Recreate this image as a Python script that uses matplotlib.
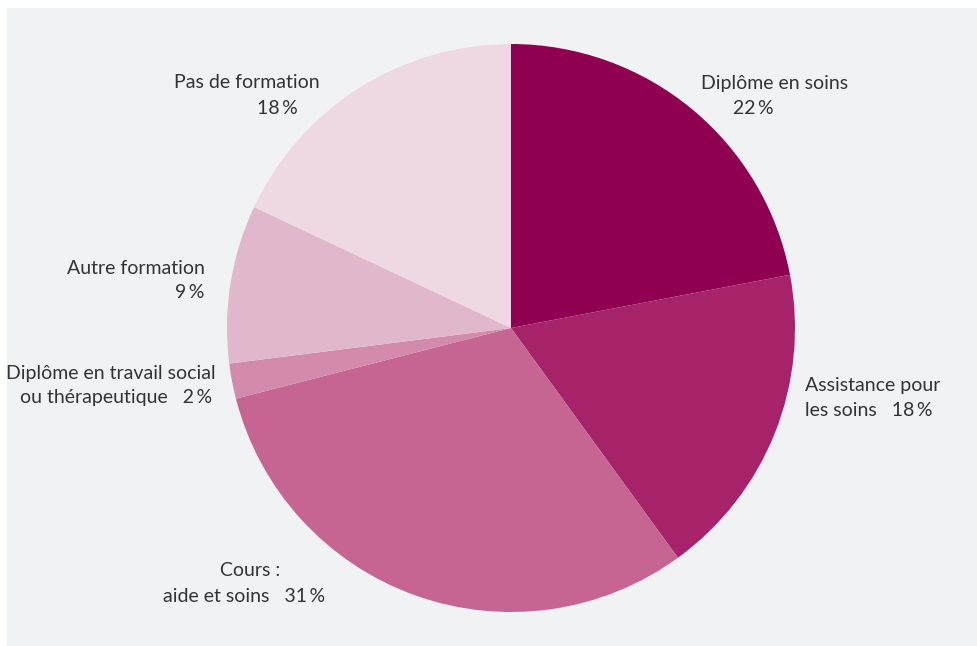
"""Pie chart: formation du personnel (recreation)."""

import matplotlib

matplotlib.use("Agg")
import matplotlib.pyplot as plt
from matplotlib.patches import Rectangle

W, H = 978, 646

categories = [
    "Diplôme en soins",
    "Assistance pour les soins",
    "Cours : aide et soins",
    "Diplôme en travail social ou thérapeutique",
    "Autre formation",
    "Pas de formation",
]
shares = [22, 18, 31, 2, 9, 18]
colors = ["#8f0050", "#a6236a", "#c66592", "#d48aab", "#e1b8cb", "#eed9e3"]

# label lines: (text, x_px, y_px, ha)
label_lines = [
    ("Diplôme en soins", 775, 83, "center"),
    ("22\u2009%", 753, 108, "center"),
    ("Assistance pour", 805, 385, "left"),
    ("les soins   18\u2009%", 805, 410, "left"),
    ("Cours :", 250, 571, "center"),
    ("aide et soins   31\u2009%", 244, 596, "center"),
    ("Diplôme en travail social", 216, 373, "right"),
    ("ou thérapeutique   2\u2009%", 212, 398, "right"),
    ("Autre formation", 205, 268, "right"),
    ("9\u2009%", 204, 293, "right"),
    ("Pas de formation", 247, 83, "center"),
    ("18\u2009%", 277, 108, "center"),
]


def main() -> None:
    plt.rcParams["font.family"] = ["Lato", "DejaVu Sans"]
    fig = plt.figure(figsize=(W / 100, H / 100), dpi=100, facecolor="white")

    fig.patches.append(
        Rectangle(
            (7 / W, 0),
            1 - 7 / W,
            1 - 8 / H,
            transform=fig.transFigure,
            facecolor="#f1f2f4",
            edgecolor="none",
            zorder=-5,
        )
    )

    cx, cy, r = 511, 328, 284
    ax = fig.add_axes(
        [(cx - r) / W, (H - cy - r) / H, 2 * r / W, 2 * r / H]
    )
    ax.set_zorder(2)
    ax.pie(
        shares,
        colors=colors,
        startangle=90,
        counterclock=False,
        radius=1.0,
        wedgeprops={"linewidth": 0, "edgecolor": "none"},
    )
    ax.set_xlim(-1, 1)
    ax.set_ylim(-1, 1)
    ax.set_aspect("equal")
    ax.axis("off")

    for text, x, y, ha in label_lines:
        fig.text(
            x / W,
            1 - y / H,
            text,
            ha=ha,
            va="center",
            fontsize=14,
            color="#333333",
            zorder=3,
        )

    fig.savefig("out.png", dpi=100, facecolor=fig.get_facecolor())


if __name__ == "__main__":
    main()
